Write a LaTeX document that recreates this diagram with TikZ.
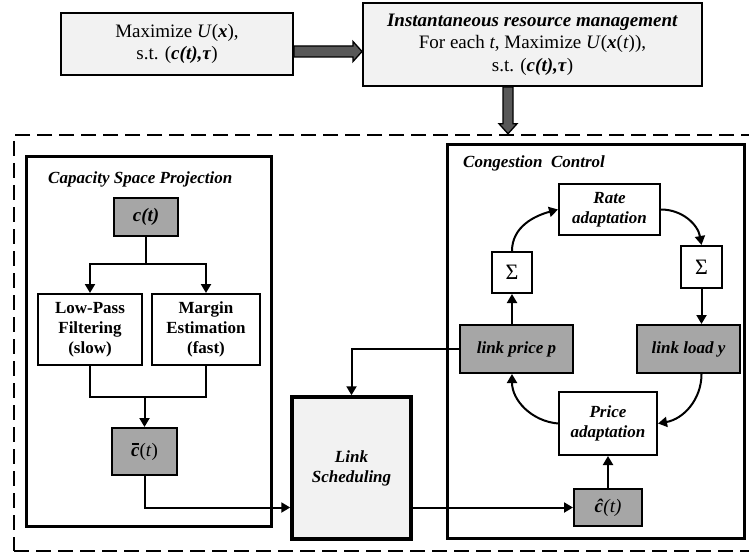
\documentclass[tikz,border=0pt]{standalone}
\usepackage{fontspec}
\setmainfont{Liberation Serif}
\usetikzlibrary{arrows.meta,calc}
\definecolor{boxgray}{RGB}{166,166,166}
\definecolor{paper}{RGB}{242,242,242}
\definecolor{arrowgray}{RGB}{88,88,88}
\newcommand\bfit[1]{\textbf{\textit{#1}}}
% bold italic c with a ruled bar over it
\newsavebox\cbox
\newcommand\barc{\sbox\cbox{\bfit{c}}\rlap{\usebox\cbox}%
  \raisebox{11.5pt}{\hbox to \wd\cbox{\hskip1.2pt\rule{0.75\wd\cbox}{1.2pt}\hss}}}

\begin{document}
\begin{tikzpicture}[x=1pt,y=-1pt,
  every node/.style={font=\fontsize{17}{20}\selectfont, align=center, inner sep=0pt},
  blk/.style={draw, line width=2pt, fill=white},
  grayblk/.style={blk, fill=boxgray},
  paperblk/.style={blk, fill=paper},
  panel/.style={draw, line width=3pt},
  frame/.style={draw, line width=2.5pt, dash pattern=on 15pt off 7pt},
  title/.style={font=\fontsize{17}{20}\selectfont\bfseries\itshape},
  bigtext/.style={font=\fontsize{19}{22.5}\selectfont},
  symtext/.style={font=\fontsize{19}{22}\selectfont},
  sumtext/.style={font=\fontsize{22}{24}\selectfont},
  wire/.style={line width=2pt},
  conn/.style={line width=2pt, -{Triangle[length=9pt,width=10pt]}},
  bigarrow/.style={draw, line width=1.3pt, fill=arrowgray, line join=miter},
]
\useasboundingbox (0,0) rectangle (749,556);

% outer dashed frame (its right side runs past the page edge)
\node[frame, minimum width=746pt, minimum height=416pt] (outer) at (387,343) {};

% top row: problem statement and its instantaneous version
\node[paperblk, bigtext, minimum width=232pt, minimum height=62pt] (goal) at (177,44)
  {Maximize \textit{U}(\bfit{x}),\\ s.t. (\bfit{c(t),τ})};
\node[paperblk, bigtext, minimum width=339pt, minimum height=83pt] (inst) at (532.5,44.5)
  {\bfit{Instantaneous resource management}\\
   For each \textit{t}, Maximize \textit{U}(\bfit{x}(\textit{t})),\\
   s.t. (\bfit{c(t),τ})};

% thick block arrows
\path (goal.east) ++(0,7.5) coordinate (a1s);
\coordinate (a1e) at (inst.west |- a1s);
\draw[bigarrow] ($(a1s)+(0,-5.5)$) -- ($(a1e)+(-9,-5.5)$) -- ($(a1e)+(-9,-10)$)
  -- (a1e) -- ($(a1e)+(-9,10)$) -- ($(a1e)+(-9,5.5)$) -- ($(a1s)+(0,5.5)$) -- cycle;
\path (inst.south) ++(-24.5,0) coordinate (a2s);
\coordinate (a2e) at (a2s |- outer.north);
\draw[bigarrow] ($(a2s)+(-5,0)$) -- ($(a2e)+(-5,-10)$) -- ($(a2e)+(-9,-10)$)
  -- (a2e) -- ($(a2e)+(9,-10)$) -- ($(a2e)+(5,-10)$) -- ($(a2s)+(5,0)$) -- cycle;

% capacity space projection
\node[panel, minimum width=245pt, minimum height=369pt] (cap) at (148.5,341.5) {};
\node[title, anchor=west] (captitle) at (48,179) {Capacity Space Projection};
\node[grayblk, minimum width=64pt, minimum height=38pt, symtext] (ct) at (146,217) {\bfit{c(t)}};
\node[blk, minimum width=104pt, minimum height=71pt, font=\fontsize{17}{20}\selectfont\bfseries] (lp) at (90,329.5)
  {Low-Pass\\ Filtering\\ (slow)};
\node[blk, minimum width=108pt, minimum height=71pt, font=\fontsize{17}{20}\selectfont\bfseries] (me) at (206,329.5)
  {Margin\\ Estimation\\ (fast)};
\node[grayblk, minimum width=65pt, minimum height=47pt, symtext] (cbar) at (144.5,451.5)
  {\barc(\textit{t})};

\coordinate (split) at (ct.south |- 0,264);
\coordinate (merge) at (cbar.north |- 0,397);
\draw[wire] (ct.south) -- (split);
\draw[conn] (split) -| (lp.north);
\draw[conn] (split) -| (me.north);
\draw[wire] (lp.south) |- (merge) -| (me.south);
\draw[conn] (merge) -- (cbar.north);

% link scheduling, with a soft shadow along its frame
\fill[black!30] (292-1.5,397+1.5) rectangle (411-1.5,539+1.5);
\node[paperblk, line width=3.5pt, minimum width=119pt, minimum height=142pt, title] (sched) at (351.5,468)
  {Link\\ Scheduling};

% congestion control
\node[panel, minimum width=297pt, minimum height=393pt] (cong) at (595.5,341.5) {};
\node[title, anchor=west] (congtitle) at (463,163) {Congestion\ \ Control};
\node[blk, minimum width=101pt, minimum height=51pt, title] (rate) at (609.5,209.5) {Rate\\ adaptation};
\node[blk, minimum width=40pt, minimum height=41pt, sumtext] (sigL) at (512,272.5) {Σ};
\node[blk, minimum width=41pt, minimum height=42pt, sumtext] (sigR) at (701.5,267) {Σ};
\node[grayblk, minimum width=113pt, minimum height=48pt, title] (lpp) at (516.5,349) {link price \textit{p}};
\node[grayblk, minimum width=103pt, minimum height=48pt, title] (lly) at (688.5,349) {link load \textit{y}};
\node[blk, minimum width=98pt, minimum height=63pt, title] (price) at (608,423.5) {Price\\ adaptation};
\node[grayblk, minimum width=68pt, minimum height=37pt, symtext] (chat) at (608,507.5)
  {\bfit{\^{c}}\textit{(t)}};

\draw[conn] (sigL.south |- lpp.north) -- (sigL.south);
\draw[conn] (sigL.north) to[out=90, in=195] (rate.west);
\draw[conn] (rate.east) to[out=0, in=100] (sigR.north);
\draw[conn] (sigR.south) -- (sigR.south |- lly.north);
\draw[conn] (sigR.south |- lly.south) to[out=-90, in=10] (price.east);
\draw[conn] (price.west) to[out=175, in=-90] (sigL.south |- lpp.south);
\draw[conn] (chat.north) -- (price.south);

% links between the blocks
\draw[conn] (lpp.west) -| (sched.north);
\draw[conn] (cbar.south) |- (sched.west |- chat.west);
\draw[conn] (sched.east |- chat.west) -- (chat.west);
\end{tikzpicture}
\end{document}
